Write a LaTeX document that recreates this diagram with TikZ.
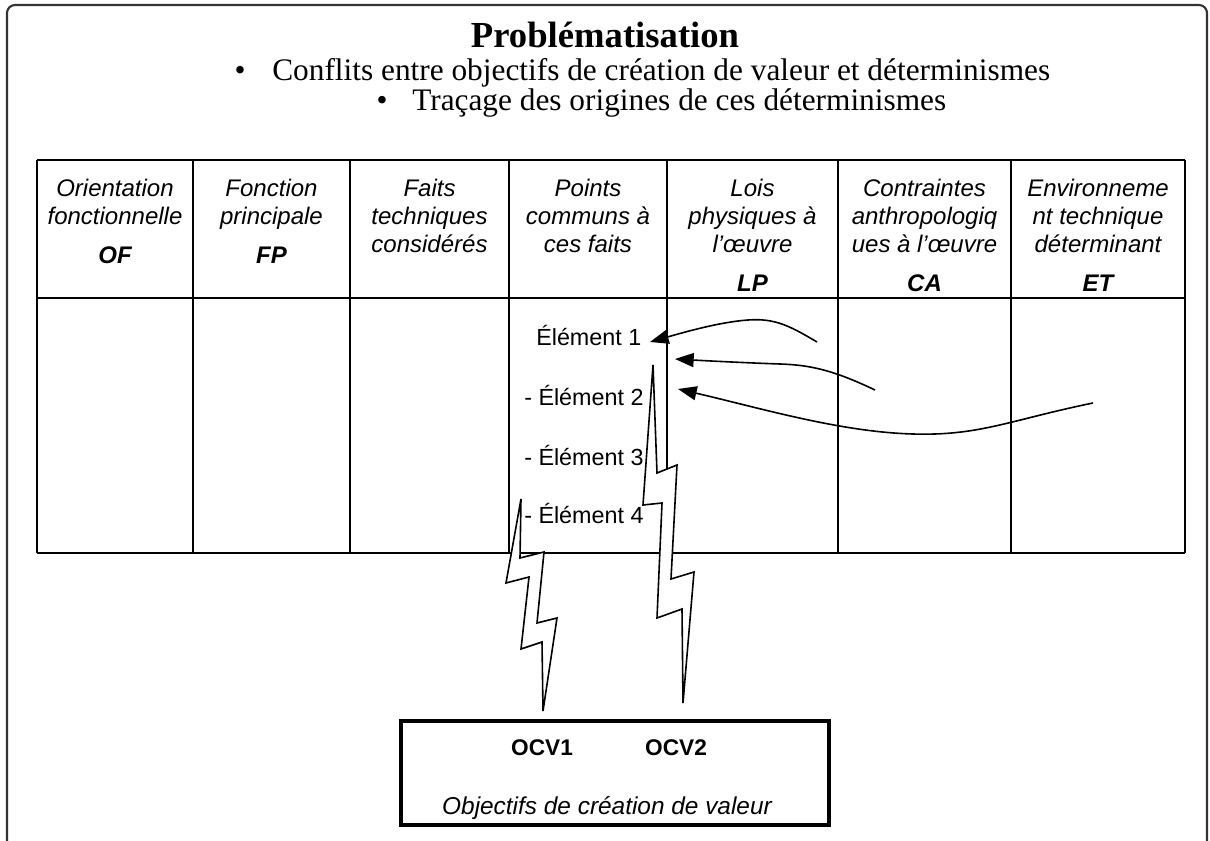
\documentclass[tikz,border=0pt]{standalone}
\usepackage{fontspec}
\setmainfont{Liberation Serif}
\newfontfamily\arial{Liberation Sans}
\usetikzlibrary{arrows.meta}
\tikzset{
  grid/.style={line width=1.5pt, black},
  head/.style={font=\arial\itshape\fontsize{18}{21}\selectfont, anchor=base, inner sep=0pt},
  headb/.style={font=\arial\bfseries\itshape\fontsize{18}{21}\selectfont, anchor=base, inner sep=0pt},
  elem/.style={font=\arial\fontsize{17.5}{20}\selectfont, anchor=base west, inner sep=0pt},
  arr/.style={line width=1.2pt, -{Triangle[length=14pt,width=10.5pt]}},
  bolt/.style={line width=1.2pt, fill=white, draw=black, line join=miter},
  serifline/.style={font=\fontsize{23.5}{26}\selectfont, inner sep=0pt, anchor=base}
}
\begin{document}
\begin{tikzpicture}[x=0.75pt,y=-0.75pt]
\useasboundingbox (0,0) rectangle (1210,841);
% frame
\draw[line width=1.6pt, black!80, rounded corners=6pt] (7,860) -- (7,5) -- (1207,5) -- (1207,860);
% title
\node[font=\bfseries\fontsize{27.5}{30}\selectfont, inner sep=0pt, anchor=base] (title) at (605,48) {Problématisation};
\node[serifline] (b1) at (240,81) {•};
\node[serifline, anchor=base west] (l1) at (272,81) {Conflits entre objectifs de création de valeur et déterminismes};
\node[serifline] (b2) at (382,111) {•};
\node[serifline, anchor=base west] (l2) at (412,111) {Traçage des origines de ces déterminismes};
% table
\foreach \y in {160,298,553} \draw[grid] (37,\y) -- (1185,\y);
\foreach \x in {37,193,350,509,667,838,1011,1185} \draw[grid] (\x,160) -- (\x,553);
% headers
\node[head] (h1a) at (115,197) {Orientation};
\node[head] (h1b) at (115,225) {fonctionnelle};
\node[headb] (h1c) at (115,264) {OF};
\node[head] (h2a) at (271.5,197) {Fonction};
\node[head] (h2b) at (271.5,225) {principale};
\node[headb] (h2c) at (271.5,264) {FP};
\node[head] (h3a) at (429.5,197) {Faits};
\node[head] (h3b) at (429.5,225) {techniques};
\node[head] (h3c) at (429.5,253) {considérés};
\node[head] (h4a) at (588,197) {Points};
\node[head] (h4b) at (588,225) {communs à};
\node[head] (h4c) at (588,253) {ces faits};
\node[head] (h5a) at (752.5,197) {Lois};
\node[head] (h5b) at (752.5,225) {physiques à};
\node[head] (h5c) at (752.5,253) {l’œuvre};
\node[headb] (h5d) at (752.5,292) {LP};
\node[head] (h6a) at (924.5,197) {Contraintes};
\node[head] (h6b) at (924.5,225) {anthropologiq};
\node[head] (h6c) at (924.5,253) {ues à l’œuvre};
\node[headb] (h6d) at (924.5,292) {CA};
\node[head] (h7a) at (1098,197) {Environneme};
\node[head] (h7b) at (1098,225) {nt technique};
\node[head] (h7c) at (1098,253) {déterminant};
\node[headb] (h7d) at (1098,292) {ET};
% elements
\node[elem] (e1) at (536,346) {Élément 1};
\node[elem] (e2) at (524,406) {- Élément 2};
\node[elem] (e3) at (524,465) {- Élément 3};
\node[elem] (e4) at (524,523) {- Élément 4};
% arrows
\coordinate (s1) at (817,342);
\coordinate (t1) at (650,342);
\coordinate (s2) at (875,390);
\coordinate (t2) at (675,359);
\coordinate (s3) at (1093,403);
\coordinate (t3) at (678,389);
\draw[arr] (s1) .. controls (790,326) and (775,318) .. (748,320) .. controls (720,322) and (685,332) .. (t1);
\draw[arr] (s2) .. controls (835,371) and (812,365) .. (780,364) .. controls (750,363) and (710,361) .. (t2);
\draw[arr] (s3) .. controls (1010,420) and (980,436) .. (913,434) .. controls (840,432) and (760,408) .. (t3);
% box
\node[draw, line width=3pt, minimum width=321pt, minimum height=78pt, inner sep=0pt] (ocv) at (615,773) {};
\node[font=\arial\bfseries\fontsize{17}{20}\selectfont, inner sep=0pt, anchor=base] (ocv1) at (542,755) {OCV1};
\node[font=\arial\bfseries\fontsize{17}{20}\selectfont, inner sep=0pt, anchor=base] (ocv2) at (676,755) {OCV2};
\node[font=\arial\itshape\fontsize{18.3}{21}\selectfont, inner sep=0pt, anchor=base] (ocvt) at (607,814) {Objectifs de création de valeur};
% bolts
\draw[bolt] (521,499) -- (506,583) -- (529,577) -- (521,649) -- (542,642) -- (543,711) -- (557,618) -- (537,623) -- (544,552) -- (520,558) -- cycle;
\draw[bolt] (653,365) -- (643,505) -- (662,503) -- (657,618) -- (682,609) -- (683,703) -- (694,572) -- (671,579) -- (677,465) -- (657,473) -- cycle;
\end{tikzpicture}
\end{document}
